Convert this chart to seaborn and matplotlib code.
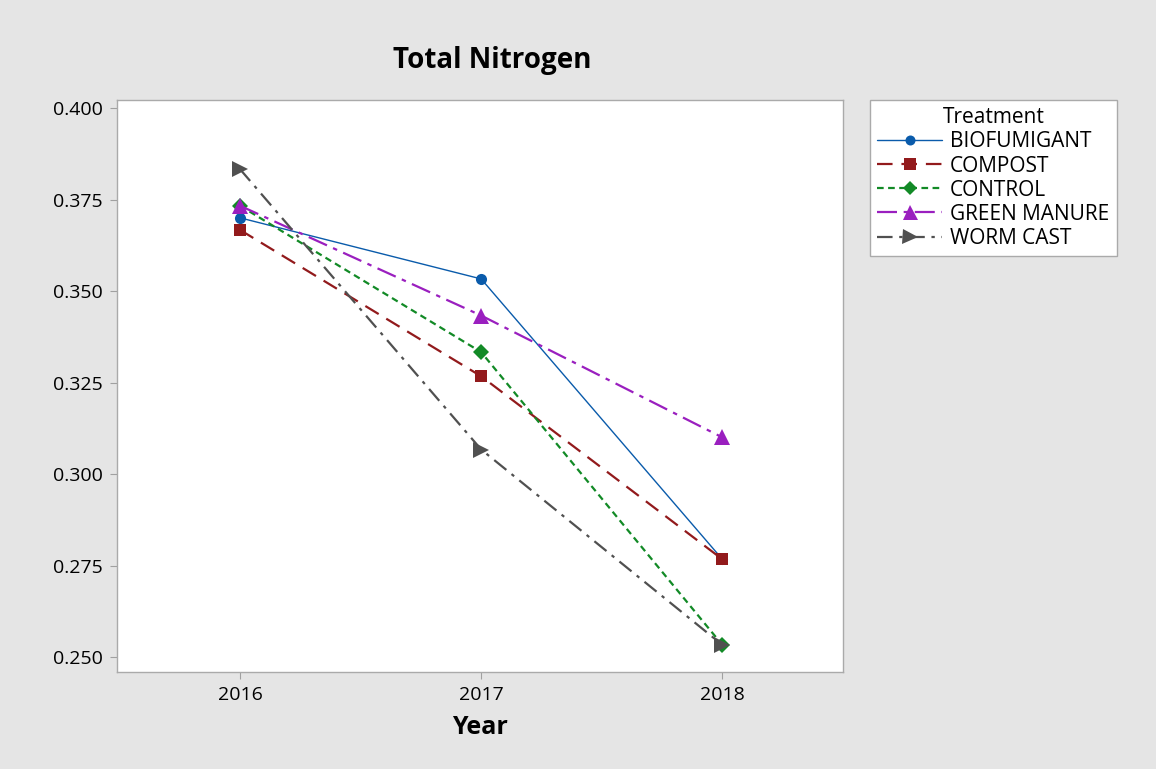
import pandas as pd
import matplotlib
matplotlib.use('Agg')
import matplotlib.pyplot as plt
from matplotlib.lines import Line2D
import seaborn as sns

# Values
years = [2016, 2017, 2018]
treatments = ['BIOFUMIGANT', 'COMPOST', 'CONTROL', 'GREEN MANURE', 'WORM CAST']
biofumigant = [0.3700, 0.3533, 0.2767]
compost = [0.3667, 0.3267, 0.2767]
control = [0.3733, 0.3333, 0.2533]
green_manure = [0.3733, 0.3433, 0.3100]
worm_cast = [0.3833, 0.3067, 0.2533]
yticks = [0.250, 0.275, 0.300, 0.325, 0.350, 0.375, 0.400]

series = [biofumigant, compost, control, green_manure, worm_cast]
data = pd.DataFrame({
    'Year': years * len(treatments),
    'Total Nitrogen': [v for s in series for v in s],
    'Treatment': [t for t in treatments for _ in years],
})

colors = {'BIOFUMIGANT': '#0a5bab', 'COMPOST': '#921a1c', 'CONTROL': '#128a26',
          'GREEN MANURE': '#9a1fbf', 'WORM CAST': '#505050'}
markers = {'BIOFUMIGANT': 'o', 'COMPOST': 's', 'CONTROL': 'D',
           'GREEN MANURE': '^', 'WORM CAST': '>'}
dashes = {'BIOFUMIGANT': '', 'COMPOST': (7, 4), 'CONTROL': (3, 2),
          'GREEN MANURE': (9, 3, 2, 3), 'WORM CAST': (7, 3, 1.5, 3)}
msizes = {'BIOFUMIGANT': 8, 'COMPOST': 9, 'CONTROL': 8, 'GREEN MANURE': 12, 'WORM CAST': 12}

sns.set_style('white')
plt.rcParams['font.family'] = ['Open Sans', 'DejaVu Sans']
plt.rcParams['text.color'] = 'black'
plt.rcParams['axes.labelcolor'] = 'black'
plt.rcParams['xtick.color'] = 'black'
plt.rcParams['ytick.color'] = 'black'

fig = plt.figure(figsize=(11.56, 7.69), dpi=100, facecolor='#e5e5e5')
ax = fig.add_axes([0.1012, 0.1261, 0.6280, 0.7439])
ax.set_facecolor('white')

sns.lineplot(data=data, x='Year', y='Total Nitrogen', hue='Treatment', style='Treatment',
             palette=colors, markers=markers, dashes=dashes, ax=ax, legend=False,
             markeredgewidth=0, linewidth=1.6)
# fine-tune per-series look to match the reference
for line, t in zip(ax.get_lines(), treatments):
    line.set_markersize(msizes[t])
    if t == 'BIOFUMIGANT':
        line.set_linewidth(1.0)

ax.set_xlim(2015.49, 2018.5)
ax.set_ylim(0.2459, 0.4022)
ax.set_xticks(years)
ax.set_xticklabels([str(y) for y in years])
ax.set_yticks(yticks)
ax.set_yticklabels([f'{v:.3f}' for v in yticks])
ax.tick_params(axis='both', which='major', labelsize=14, length=5, width=0.8,
               color='#a0a0a0', labelcolor='black', direction='out', left=True, bottom=True, pad=5)
for sp in ax.spines.values():
    sp.set_color('#aaaaaa')
    sp.set_linewidth(1.0)

ax.set_xlabel('Year', fontsize=18, fontweight='bold', labelpad=8)
ax.set_ylabel('')
fig.text(0.426, 0.921, 'Total Nitrogen', fontsize=20, fontweight='bold', ha='center', va='center')

# legend
handles = []
for t in treatments:
    handles.append(Line2D([], [], color=colors[t], marker=markers[t], markersize=msizes[t] * 0.9,
                          markeredgewidth=0, linewidth=1.0 if t == 'BIOFUMIGANT' else 1.6,
                          linestyle='-' if t == 'BIOFUMIGANT' else (0, dashes[t])))
leg = fig.legend(handles, treatments, title='Treatment', loc='upper left',
                 bbox_to_anchor=(0.7526, 0.870), borderaxespad=0, fontsize=15, title_fontsize=15,
                 frameon=True, fancybox=False, edgecolor='#aaaaaa', facecolor='white',
                 framealpha=1, handlelength=3.1, labelspacing=0.15, borderpad=0.35,
                 handletextpad=0.4)
leg.get_frame().set_linewidth(1.0)

fig.savefig('out.png', dpi=100, facecolor=fig.get_facecolor())
